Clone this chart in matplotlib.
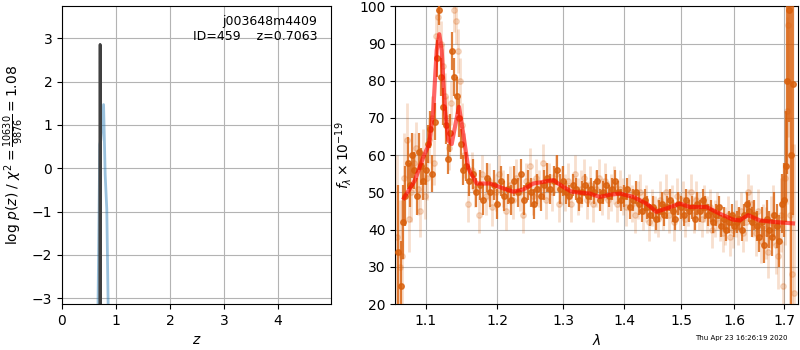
import matplotlib
matplotlib.use('Agg')
import matplotlib.pyplot as plt
from matplotlib.ticker import FixedLocator, NullLocator, FormatStrFormatter

# redshift probability (left panel)
z_fit = [0.700, 0.7063, 0.712]
logp_fit = [-6.0, 2.86, -6.0]
z_coarse = [0.66, 0.70, 0.72, 0.77, 0.80, 0.83, 0.87]
logp_coarse = [-4.0, 0.55, 0.65, 1.47, -0.15, -0.95, -4.5]

# spectrum, binned (dark) points
lam_dark = [1.064, 1.067, 1.070, 1.073, 1.076, 1.079, 1.082, 1.085, 1.088, 1.091,
            1.094, 1.097, 1.100, 1.103, 1.106, 1.109, 1.112, 1.115, 1.118, 1.121,
            1.124, 1.127, 1.130, 1.133, 1.136, 1.139, 1.142, 1.145, 1.148, 1.151,
            1.155, 1.160, 1.165, 1.170, 1.175, 1.180, 1.185, 1.190, 1.195, 1.200,
            1.205, 1.210, 1.215, 1.220, 1.225, 1.230, 1.235, 1.240, 1.245, 1.250,
            1.255, 1.260, 1.265, 1.270, 1.275, 1.280, 1.285, 1.290, 1.295, 1.300,
            1.305, 1.310, 1.315, 1.320, 1.325, 1.330, 1.335, 1.340, 1.345, 1.350,
            1.355, 1.360, 1.365, 1.370, 1.375, 1.380, 1.385, 1.390, 1.395, 1.400,
            1.405, 1.410, 1.415, 1.420, 1.425, 1.430, 1.435, 1.440, 1.445, 1.450,
            1.455, 1.460, 1.465, 1.470, 1.475, 1.480, 1.485, 1.490, 1.495, 1.500,
            1.505, 1.510, 1.515, 1.520, 1.525, 1.530, 1.535, 1.540, 1.545, 1.550,
            1.555, 1.560, 1.565, 1.570, 1.575, 1.580, 1.585, 1.590, 1.595, 1.600,
            1.605, 1.610, 1.615, 1.620, 1.625, 1.630, 1.635, 1.640, 1.645, 1.650,
            1.655, 1.660, 1.665, 1.670, 1.675, 1.680, 1.685, 1.690, 1.695, 1.700,
            1.704, 1.707, 1.710, 1.714, 1.718]
flux_dark = [34, 25, 42, 49, 58, 52, 60, 56, 49, 61,
             57, 53, 56, 63, 67, 55, 69, 86, 99, 81,
             73, 68, 59, 66, 88, 81, 76, 70, 63, 56,
             57, 53, 55, 50, 52, 48, 54, 50, 52, 47,
             53, 49, 51, 48, 53, 50, 55, 48, 52, 50,
             47, 51, 49, 52, 54, 51, 53, 56, 51, 53,
             50, 49, 52, 51, 48, 50, 52, 49, 51, 50,
             53, 48, 50, 52, 49, 51, 53, 50, 48, 49,
             51, 46, 48, 50, 47, 45, 48, 46, 44, 46,
             43, 45, 47, 44, 46, 48, 45, 43, 47, 46,
             44, 48, 45, 46, 43, 47, 45, 48, 46, 44,
             45, 42, 44, 46, 41, 43, 40, 42, 44, 41,
             42, 43, 40, 44, 47, 45, 42, 44, 41, 38,
             42, 36, 43, 40, 38, 44, 41, 37, 47, 48,
             57, 80, 99, 60, 79]
err_dark = [18, 12, 10, 8, 7, 6, 6, 5, 5, 5,
            5, 5, 4, 5, 5, 5, 5, 5, 4, 5,
            5, 5, 4, 5, 5, 5, 5, 5, 4, 4,
            4, 4, 4, 4, 4, 4, 4, 4, 4, 4,
            4, 4, 4, 4, 4, 4, 4, 4, 4, 4,
            4, 4, 4, 4, 4, 4, 4, 4, 4, 4,
            3, 3, 3, 3, 3, 3, 3, 3, 3, 3,
            3, 3, 3, 3, 3, 3, 3, 3, 3, 3,
            3, 3, 3, 3, 3, 3, 3, 3, 3, 3,
            3, 3, 3, 3, 3, 3, 3, 3, 3, 3,
            3, 3, 3, 3, 3, 3, 3, 3, 3, 3,
            3, 3, 3, 3, 3, 3, 3, 3, 3, 3,
            3, 3, 3, 3, 3, 3, 4, 4, 4, 4,
            4, 5, 5, 5, 5, 6, 6, 7, 8, 10,
            15, 25, 30, 40, 35]

# spectrum, unbinned (light) points
lam_light = [1.062, 1.066, 1.069, 1.072, 1.075, 1.078, 1.081, 1.084, 1.087, 1.090,
             1.093, 1.096, 1.099, 1.102, 1.105, 1.108, 1.111, 1.114, 1.117, 1.120,
             1.123, 1.126, 1.129, 1.132, 1.135, 1.138, 1.141, 1.144, 1.147, 1.150,
             1.153, 1.158, 1.163, 1.168, 1.173, 1.178, 1.183, 1.188, 1.193, 1.198,
             1.203, 1.208, 1.213, 1.218, 1.223, 1.228, 1.233, 1.238, 1.243, 1.248,
             1.253, 1.258, 1.263, 1.268, 1.273, 1.278, 1.283, 1.288, 1.293, 1.298,
             1.303, 1.308, 1.313, 1.318, 1.323, 1.328, 1.333, 1.338, 1.343, 1.348,
             1.353, 1.358, 1.363, 1.368, 1.373, 1.378, 1.383, 1.388, 1.393, 1.398,
             1.403, 1.408, 1.413, 1.418, 1.423, 1.428, 1.433, 1.438, 1.443, 1.448,
             1.453, 1.458, 1.463, 1.468, 1.473, 1.478, 1.483, 1.488, 1.493, 1.498,
             1.503, 1.508, 1.513, 1.518, 1.523, 1.528, 1.533, 1.538, 1.543, 1.548,
             1.553, 1.558, 1.563, 1.568, 1.573, 1.578, 1.583, 1.588, 1.593, 1.598,
             1.603, 1.608, 1.613, 1.618, 1.623, 1.628, 1.633, 1.638, 1.643, 1.648,
             1.653, 1.658, 1.663, 1.668, 1.673, 1.678, 1.683, 1.688, 1.693, 1.698,
             1.702, 1.706, 1.709, 1.712, 1.716, 1.720]
flux_light = [38, 30, 33, 54, 64, 43, 50, 58, 62, 51,
              45, 60, 49, 54, 64, 70, 58, 92, 97, 90,
              84, 76, 70, 62, 74, 99, 96, 88, 80, 68,
              60, 47, 56, 51, 44, 55, 49, 53, 46, 50,
              55, 51, 45, 52, 48, 54, 50, 44, 53, 57,
              49, 54, 51, 58, 48, 53, 50, 55, 47, 52,
              50, 53, 47, 55, 49, 51, 54, 48, 52, 47,
              51, 54, 49, 53, 48, 50, 52, 47, 51, 49,
              46, 50, 47, 44, 48, 50, 45, 47, 42, 46,
              44, 43, 48, 45, 50, 44, 47, 42, 49, 45,
              48, 43, 46, 50, 44, 48, 45, 43, 47, 44,
              46, 40, 43, 45, 42, 39, 41, 44, 38, 40,
              43, 41, 45, 39, 42, 50, 47, 43, 39, 45,
              37, 41, 39, 34, 42, 44, 36, 33, 44, 25,
              54, 72, 95, 44, 28, 23]
err_light = [22, 18, 15, 12, 10, 9, 8, 8, 7, 7,
             7, 7, 6, 6, 6, 6, 6, 6, 6, 6,
             6, 6, 6, 6, 6, 6, 6, 6, 6, 6,
             6, 5, 5, 5, 5, 5, 5, 5, 5, 5,
             5, 5, 5, 5, 5, 5, 5, 5, 5, 5,
             5, 5, 5, 5, 5, 5, 5, 5, 5, 5,
             5, 5, 5, 5, 5, 5, 5, 5, 5, 5,
             5, 5, 5, 5, 5, 5, 5, 5, 5, 5,
             5, 5, 5, 5, 5, 5, 5, 5, 5, 5,
             5, 5, 5, 5, 5, 5, 5, 5, 5, 5,
             5, 5, 5, 5, 5, 5, 5, 5, 5, 5,
             5, 5, 5, 5, 5, 5, 5, 5, 5, 5,
             5, 5, 5, 5, 5, 5, 5, 5, 6, 6,
             6, 6, 7, 7, 7, 8, 8, 9, 10, 12,
             18, 25, 30, 35, 35, 40]

# model
lam_model = [1.0714, 1.0858, 1.0968, 1.1048, 1.1102, 1.1148, 1.1183, 1.1216, 1.1261,
             1.1306, 1.1353, 1.1398, 1.1454, 1.1513, 1.1584, 1.1702, 1.1893, 1.2087,
             1.2234, 1.2384, 1.2535, 1.2843, 1.3000, 1.3133, 1.3428, 1.3592, 1.3758,
             1.3926, 1.4153, 1.4385, 1.4560, 1.4738, 1.4978, 1.5161, 1.5471, 1.5723,
             1.5979, 1.6110, 1.6273, 1.6506, 1.6775, 1.7187]
flux_model = [48.5, 53.3, 59.5, 63.1, 72.1, 88.2, 92.5, 88.2, 72.1,
              64.0, 63.0, 67.6, 73.0, 65.8, 56.5, 52.4, 52.4, 51.1,
              50.2, 50.8, 52.4, 53.3, 51.5, 50.2, 49.7, 48.8, 49.4,
              49.7, 48.8, 47.0, 44.8, 45.7, 47.0, 46.1, 46.1, 44.3,
              42.7, 42.5, 43.9, 42.5, 42.1, 41.7]

xticks = [1.1, 1.2, 1.3, 1.4, 1.5, 1.6, 1.7]

fig = plt.figure(figsize=(8, 3.5), dpi=100)
ax1 = fig.add_axes([0.0775, 0.131, 0.336, 0.851])
ax2 = fig.add_axes([0.494, 0.131, 0.504, 0.851])

ax1.plot(z_coarse, logp_coarse, color='tab:blue', alpha=0.45, lw=2)
ax1.plot(z_fit, logp_fit, color='0.25', lw=2)
ax1.set_xlim(0, 4.98)
ax1.set_ylim(-3.14, 3.74)
ax1.grid(color='0.7')
ax1.set_axisbelow(True)
ax1.set_xlabel('$z$')
ax1.set_ylabel(r'log $p(z)$ / $\chi^2=\frac{10630}{9876}=1.08$')
ax1.text(0.95, 0.97, 'j003648m4409\nID=459    z=0.7063', transform=ax1.transAxes,
         ha='right', va='top', fontsize=9)

ax2.errorbar(lam_light, flux_light, yerr=err_light, fmt='o', color='#d9600c',
             alpha=0.2, markersize=4, elinewidth=2, zorder=2)
ax2.errorbar(lam_dark, flux_dark, yerr=err_dark, fmt='o', color='#d9600c',
             alpha=0.8, markersize=4, elinewidth=1.6, zorder=3)
ax2.plot(lam_model, flux_model, color='red', alpha=0.6, lw=3, zorder=4)
ax2.set_xscale('log')
ax2.xaxis.set_major_locator(FixedLocator(xticks))
ax2.xaxis.set_major_formatter(FormatStrFormatter('%.1f'))
ax2.xaxis.set_minor_locator(NullLocator())
ax2.set_xlim(1.06, 1.73)
ax2.set_ylim(20, 100)
ax2.grid(color='0.7')
ax2.set_axisbelow(True)
ax2.set_xlabel(r'$\lambda$')
ax2.set_ylabel(r'$f_\lambda \times 10^{-19}$')

fig.text(0.985, 0.025, 'Thu Apr 23 16:26:19 2020', ha='right', va='bottom', fontsize=5)

fig.savefig('out.png', dpi=100)
